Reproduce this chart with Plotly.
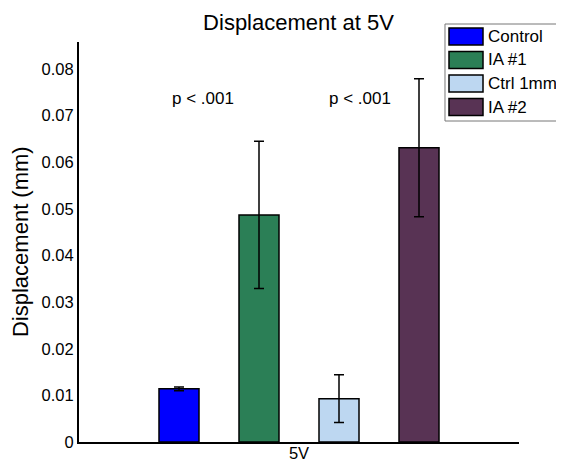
import plotly.graph_objects as go

# data
groups = ['Control', 'IA #1', 'Ctrl 1mm', 'IA #2']
category = ['5V']
means = [0.0114, 0.0487, 0.0093, 0.0631]
errors = [0.0004, 0.0158, 0.0051, 0.0148]
p_labels = ['p < .001', 'p < .001']
ticks = [0, 0.01, 0.02, 0.03, 0.04, 0.05, 0.06, 0.07, 0.08]
tick_text = ['0', '0.01', '0.02', '0.03', '0.04', '0.05', '0.06', '0.07', '0.08']

colors = ['#0000FF', '#2B7F56', '#BDD7F1', '#583354']
FONT = 'Liberation Sans, Arial, sans-serif'

fig = go.Figure()
for name, m, e, c in zip(groups, means, errors, colors):
    fig.add_trace(go.Bar(
        x=category, y=[m], name=name, showlegend=False,
        marker=dict(color=c, line=dict(color='black', width=1.5)),
        error_y=dict(type='data', array=[e], color='black', thickness=1.5, width=5),
    ))

# p-value labels
for xp, txt in zip([-0.218, 0.139], p_labels):
    fig.add_annotation(x=xp, y=0.0736, xref='x', yref='y', text=txt,
                       showarrow=False, font=dict(size=17, color='black'))

# y-axis title
fig.add_annotation(x=-0.134, y=0.5, xref='paper', yref='paper',
                   xanchor='center', yanchor='middle',
                   text='Displacement (mm)', textangle=-90, showarrow=False,
                   font=dict(size=22, color='black'))

# matlab-style legend box (drawn by hand, big swatches); right side runs off the page
lx0, lx1, ly0, ly1 = 0.8318, 1.3, 0.8025, 1.045
box = dict(color='#777777', width=1)
fig.add_shape(type='rect', xref='paper', yref='paper', x0=lx0, x1=lx1, y0=ly0, y1=ly1,
              line=dict(width=0), fillcolor='white')
fig.add_shape(type='line', xref='paper', yref='paper', x0=lx0, x1=lx1, y0=ly1, y1=ly1, line=box)
fig.add_shape(type='line', xref='paper', yref='paper', x0=lx0, x1=lx1, y0=ly0, y1=ly0, line=box)
fig.add_shape(type='line', xref='paper', yref='paper', x0=lx0, x1=lx0, y0=ly0, y1=ly1, line=box)
for i, (name, c) in enumerate(zip(groups, colors)):
    yc = 1.0138 - i * 0.0588
    fig.add_shape(type='rect', xref='paper', yref='paper',
                  x0=0.8409, x1=0.9182, y0=yc - 0.0213, y1=yc + 0.0213,
                  line=dict(color='black', width=1.5), fillcolor=c)
    fig.add_annotation(x=0.9245, y=yc, xref='paper', yref='paper', text=name,
                       xanchor='left', yanchor='middle', showarrow=False,
                       font=dict(size=17, color='black'))

# page body adds an 8px margin, so the figure is shrunk to what stays visible
fig.update_layout(
    width=548, height=456,
    barmode='group', bargap=0.2727, bargroupgap=0.5,
    paper_bgcolor='white', plot_bgcolor='white',
    margin=dict(l=71, r=37, t=34, b=22),
    font=dict(family=FONT, color='black', size=16),
    showlegend=False,
    title=dict(text='Displacement at 5V', x=0.5301, xanchor='center', y=0.969,
               yanchor='middle', font=dict(size=22)),
)
fig.update_xaxes(showline=True, linecolor='black', linewidth=2, ticks='',
                 showgrid=False, zeroline=False, automargin=False,
                 ticklabelstandoff=-5, tickfont=dict(size=16.5))
fig.update_yaxes(range=[0, 0.0858], tickvals=ticks, ticktext=tick_text,
                 showline=True, linecolor='black', linewidth=2, ticks='',
                 showgrid=False, zeroline=False, automargin=False,
                 tickfont=dict(size=16.5))

fig.write_html("out.html")
